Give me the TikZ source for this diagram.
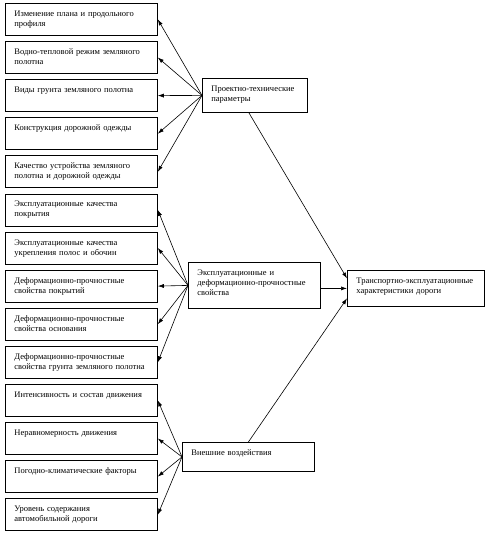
\documentclass[tikz,border=0pt]{standalone}
\usepackage{fontspec}
\setmainfont{Liberation Serif}
\usepackage{tikz}
\usetikzlibrary{arrows.meta,positioning,calc}

\tikzset{
    box/.style={draw, line width=0.8pt, anchor=north west, align=left,
        inner xsep=9pt, inner ysep=2pt, text height=11pt,
        font=\fontsize{8.5}{10}\selectfont,
        execute at begin node={\rightskip=-30pt plus 1fil\hyphenpenalty=10000\exhyphenpenalty=10000}},
    leftbox/.style={box, text width=134pt, text depth=17pt},
    arr/.style={-{Latex[length=6pt,width=4pt]}, line width=0.6pt}
}

\begin{document}
\begin{tikzpicture}[x=1pt,y=-1pt]
    \useasboundingbox (0,0) rectangle (491,539);
    % left column
    \node[leftbox] (izm) at (5,3) {Изменение плана и продольного\\профиля};
    \node[leftbox] (vod) at (5,41.1) {Водно-тепловой режим земляного\\полотна};
    \node[leftbox] (vid) at (5,79.2) {Виды грунта земляного полотна};
    \node[leftbox] (kon) at (5,117.3) {Конструкция дорожной одежды};
    \node[leftbox] (kach) at (5,155.4) {Качество устройства земляного\\полотна и дорожной одежды};
    \node[leftbox] (ekpok) at (5,193.5) {Эксплуатационные качества\\покрытия};
    \node[leftbox] (ekukr) at (5,231.6) {Эксплуатационные качества\\укрепления полос и обочин};
    \node[leftbox] (defpok) at (5,269.7) {Деформационно-прочностные\\свойства покрытий};
    \node[leftbox] (defosn) at (5,307.8) {Деформационно-прочностные\\свойства основания};
    \node[leftbox] (defgr) at (5,345.9) {Деформационно-прочностные\\свойства грунта земляного полотна};
    \node[leftbox] (int) at (5,384) {Интенсивность и состав движения};
    \node[leftbox] (ner) at (5,422.1) {Неравномерность движения};
    \node[leftbox] (pog) at (5,460.2) {Погодно-климатические факторы};
    \node[leftbox] (urov) at (5,498.3) {Уровень содержания\\автомобильной дороги};
    % middle column
    \node[box, text width=87pt, text depth=19pt] (pt) at (202,78) {Проектно-технические\\параметры};
    \node[box, text width=114pt, text depth=31pt] (ed) at (188,262) {Эксплуатационные и\\деформационно-прочностные\\свойства};
    \node[box, text width=114pt, text depth=14pt] (vn) at (182,442) {Внешние воздействия};
    % result
    \node[box, text width=119pt, text depth=21pt] (tr) at (347,270) {Транспортно-эксплуатационные\\характеристики дороги};

    \draw[arr] (pt.west) -- (izm.east);
    \draw[arr] (pt.west) -- (vod.east);
    \draw[arr] (pt.west) -- (vid.east);
    \draw[arr] (pt.west) -- (kon.east);
    \draw[arr] (pt.west) -- (kach.east);

    \draw[arr] (ed.west) -- (ekpok.east);
    \draw[arr] (ed.west) -- (ekukr.east);
    \draw[arr] (ed.west) -- (defpok.east);
    \draw[arr] (ed.west) -- (defosn.east);
    \draw[arr] (ed.west) -- (defgr.east);

    \draw[arr] (vn.west) -- (int.east);
    \draw[arr] (vn.west) -- (ner.east);
    \draw[arr] (vn.west) -- (pog.east);
    \draw[arr] (vn.west) -- (urov.east);

    \draw[arr] ([xshift=-6pt]pt.south) -- ([yshift=10pt]tr.west);
    \draw[arr] (ed.east |- tr.west) -- (tr.west);
    \draw[arr] (vn.north) -- ([yshift=-10pt]tr.west);
\end{tikzpicture}
\end{document}
